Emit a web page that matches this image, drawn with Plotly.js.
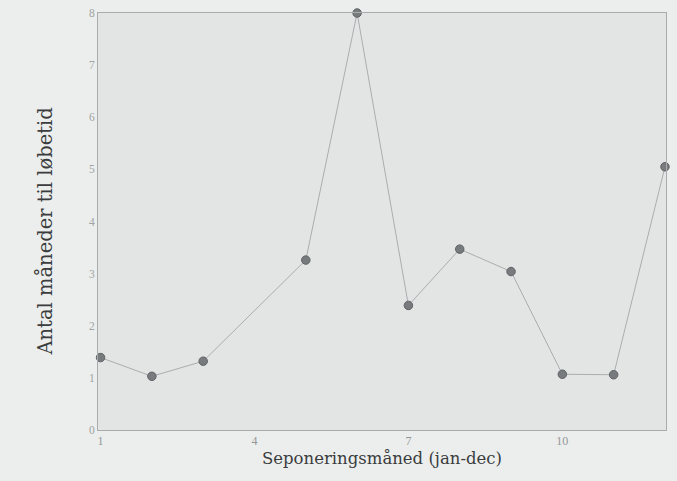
<!DOCTYPE html>
<html>
<head>
<meta charset="utf-8">
<script src="https://cdn.plot.ly/plotly-3.0.1.min.js"></script>
<style>html,body{margin:0;padding:0;background:#eceeed;}</style>
</head>
<body>
<div id="chart" style="width:677px;height:481px;"></div>
<script>
const months = [1, 2, 3, 5, 6, 7, 8, 9, 10, 11, 12];
const values = [1.39, 1.03, 1.32, 3.26, 8.0, 2.39, 3.47, 3.04, 1.07, 1.06, 5.05];
const xTicks = [1, 4, 7, 10];
const yTicks = [0, 1, 2, 3, 4, 5, 6, 7, 8];
const xTitle = 'Seponeringsmåned (jan-dec)';
const yTitle = 'Antal måneder til løbetid';

const trace = {
  x: months, y: values, type: 'scatter', mode: 'lines+markers',
  line: {color: '#aaadae', width: 1},
  marker: {color: '#787b7d', size: 8.5, line: {color: '#5f6264', width: 1}},
  cliponaxis: false, hoverinfo: 'none'
};

const layout = {
  width: 677, height: 481,
  paper_bgcolor: '#eceeed', plot_bgcolor: '#e3e5e5',
  margin: {l: 98, r: 11, t: 13, b: 51},
  showlegend: false,
  font: {family: '"Liberation Serif", "DejaVu Serif", serif', color: '#8c8f90'},
  xaxis: {
    range: [0.95, 12.02], tickvals: xTicks, ticktext: xTicks.map(String),
    showgrid: false, zeroline: false, showline: true, mirror: true,
    linecolor: '#a9acad', linewidth: 1, ticks: '',
    tickfont: {size: 12, color: '#949798'},
    title: {text: xTitle, standoff: 5,
            font: {family: '"DejaVu Serif", serif', size: 16.5, color: '#3a3c3d'}}
  },
  yaxis: {
    range: [0, 8], tickvals: yTicks, ticktext: yTicks.map(String),
    showgrid: false, zeroline: false, showline: true, mirror: true,
    linecolor: '#a9acad', linewidth: 1, ticks: '',
    tickfont: {size: 11.5, color: '#a0a3a4'}
  },
  annotations: [{
    text: yTitle, textangle: -90, showarrow: false,
    xref: 'paper', yref: 'paper', x: -0.094, y: 0.475,
    xanchor: 'center', yanchor: 'middle',
    font: {family: '"DejaVu Serif", serif', size: 19.5, color: '#3a3c3d'}
  }]
};

Plotly.newPlot('chart', [trace], layout, {staticPlot: true, displayModeBar: false});
</script>
</body>
</html>
